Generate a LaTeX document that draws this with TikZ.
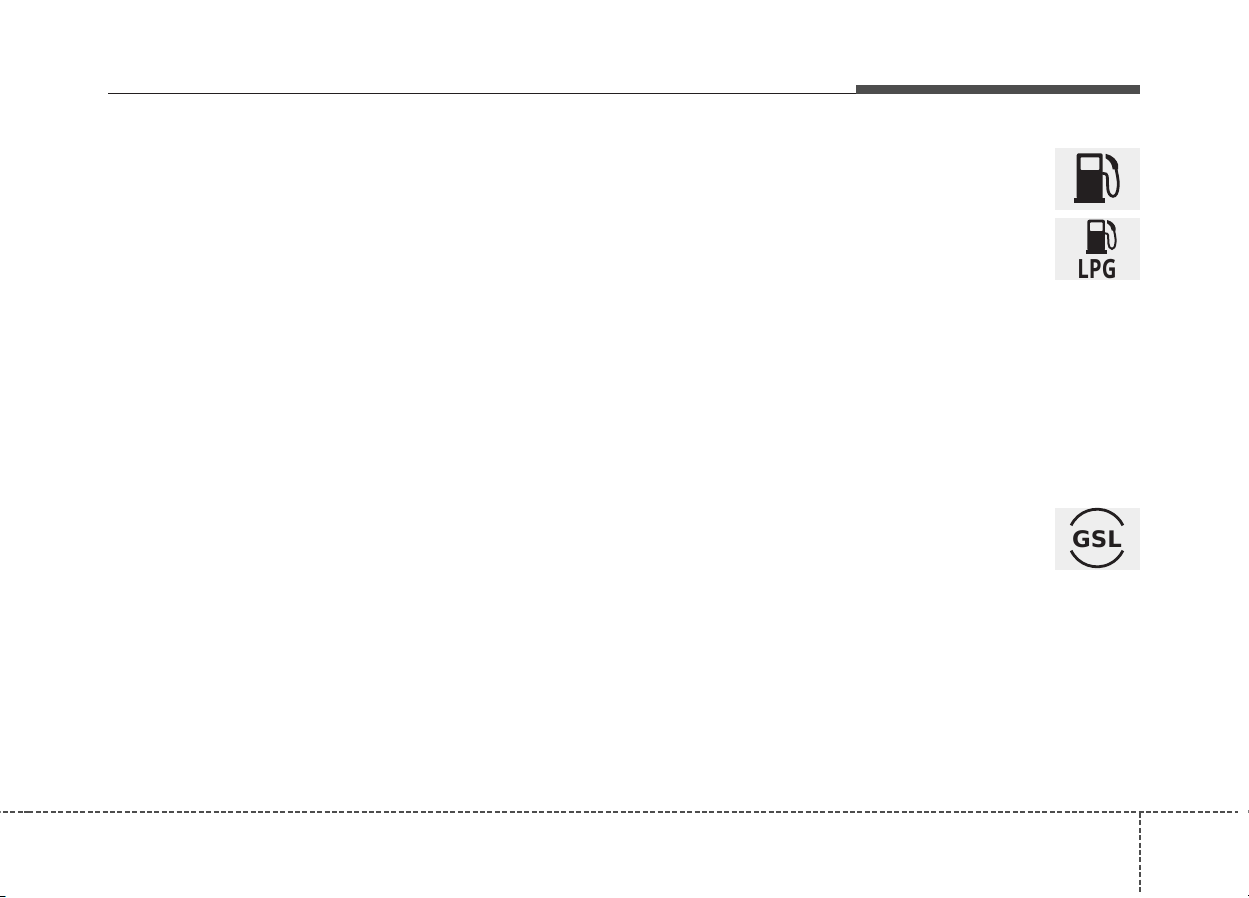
\documentclass[tikz,border=0pt]{standalone}
\usepackage{fontspec}
\newfontfamily\lpgfont[FakeStretch=.77]{Open Sans}
\newfontfamily\gslfont{DejaVu Sans}
\definecolor{iconbg}{HTML}{EEEEEE}
\definecolor{bardark}{HTML}{4D4D4D}
\definecolor{pumpdark}{HTML}{231F20}
\tikzset{
	iconbox/.style={fill=iconbg,draw=none},
	footdash/.style={draw=bardark,line width=2pt,dash pattern=on 5pt off 2.4pt},
	pump/.pic={
		\fill[pumpdark,rounded corners=2pt] (0,46) -- (0,0) -- (26,0) -- (26,46) -- cycle;
		\fill[pumpdark] (-2.4,44.5) rectangle (28.3,49.7);
		\fill[iconbg,rounded corners=.8pt] (4,4) rectangle (22.6,16.5);
		\fill[pumpdark] (29,.5) .. controls (36,2) and (40.5,7) .. (41.5,11.7) -- (41.5,16) -- (36,16) .. controls (35.5,11) and (33,7) .. (29,5) -- cycle;
		\draw[pumpdark,line width=#1,line cap=round] (39,14) .. controls (40,20) and (42,26) .. (41.5,33) .. controls (41,40) and (39,43) .. (36.3,43) .. controls (33,43) and (31.3,39) .. (31,35) -- (30.6,23) .. controls (30.4,21) and (29,20) .. (26,20);
	}
}
\begin{document}
\begin{tikzpicture}[x=1pt,y=-1pt,line cap=butt,line join=miter]
	\useasboundingbox (0,0) rectangle (1249,897);
	% header
	\draw[pumpdark,line width=1.3pt] (108,93.4)--(856,93.4);
	\fill[bardark] (856,85) rectangle (1140,94);
	% icon boxes
	\foreach \y in {148,218,508}{
		\fill[iconbox] (1055,\y) rectangle (1140,\y+62);
	}
	\pic at (1076.7,153.3) {pump=2.8pt};
	\pic[scale=.68] at (1087.3,219.7) {pump=2pt};
	\node[font=\lpgfont\bfseries\fontsize{26.5}{27}\selectfont,text=pumpdark,inner sep=0pt,anchor=base] (lpg) at (1097,278.3) {LPG};
	\node[font=\gslfont\bfseries\fontsize{22.8}{24}\selectfont,text=pumpdark,inner sep=0pt,anchor=base] (gsl) at (1097,547.3) {GSL};
	\draw[pumpdark,line width=2.8pt] (1097,538)++(154:28.8) arc[start angle=154,end angle=26,radius=28.8];
	\draw[pumpdark,line width=2.8pt] (1097,538)++(206:28.8) arc[start angle=206,end angle=334,radius=28.8];
	% footer
	\draw[footdash] (3,812)--(24,812);
	\draw[bardark,line width=2pt] (24,812)--(33,812);
	\draw[footdash] (36,812)--(1238,812);
	\draw[footdash] (1140,813)--(1140,892);
	% crop marks
	\fill[gray] (0,810.5) rectangle (1,812.5);
	\fill[gray] (1248,810) rectangle (1249,813);
	\fill[black] (0,895.8) rectangle (5,897);
	\fill[cyan] (5,895.8) rectangle (6,897);
	\fill[black] (1248,895) rectangle (1249,896);
\end{tikzpicture}
\end{document}
